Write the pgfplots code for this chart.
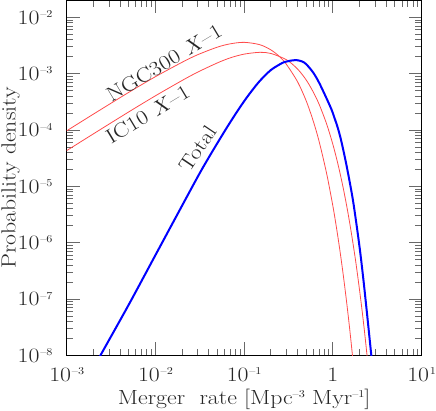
\RequirePackage{fix-cm}
\documentclass[border=0pt]{standalone}
\usepackage{fontspec}
\setmainfont{Latin Modern Roman}[FakeStretch=1.16]
\usepackage{pgfplots}
\pgfplotsset{compat=1.18}
\definecolor{curvered}{RGB}{255,75,75}
\definecolor{tickgray}{RGB}{105,105,105}
\newcommand\bigf{\fontsize{20.5}{22}\selectfont}
\newcommand\sups[1]{\raisebox{6.6pt}{\fontsize{10.5}{11}\selectfont #1}}
\newcommand\ee[1]{10\kern0.8pt\sups{#1}}

\begin{document}
\begin{tikzpicture}
\begin{loglogaxis}[
    scale only axis,
    width=355pt, height=355pt,
    xmin=1e-3, xmax=10,
    ymin=1e-8, ymax=0.02,
    xtick={1e-3,1e-2,1e-1,1,10},
    xticklabels={\ee{–3},\ee{–2},\ee{–1},1,\ee{1}},
    ytick={1e-8,1e-7,1e-6,1e-5,1e-4,1e-3,1e-2},
    yticklabels={\ee{–8},\ee{–7},\ee{–6},\ee{–5},\ee{–4},\ee{–3},\ee{–2}},
    minor xtick={2e-3,3e-3,4e-3,5e-3,6e-3,7e-3,8e-3,9e-3,
                 2e-2,3e-2,4e-2,5e-2,6e-2,7e-2,8e-2,9e-2,
                 0.2,0.3,0.4,0.5,0.6,0.7,0.8,0.9,
                 2,3,4,5,6,7,8,9},
    minor ytick={2e-8,3e-8,4e-8,5e-8,6e-8,7e-8,8e-8,9e-8,
                 2e-7,3e-7,4e-7,5e-7,6e-7,7e-7,8e-7,9e-7,
                 2e-6,3e-6,4e-6,5e-6,6e-6,7e-6,8e-6,9e-6,
                 2e-5,3e-5,4e-5,5e-5,6e-5,7e-5,8e-5,9e-5,
                 2e-4,3e-4,4e-4,5e-4,6e-4,7e-4,8e-4,9e-4,
                 2e-3,3e-3,4e-3,5e-3,6e-3,7e-3,8e-3,9e-3},
    tick align=inside,
    xtick pos=both, ytick pos=both,
    major tick length=13pt,
    minor tick length=6.5pt,
    every tick/.style={tickgray, line width=0.9pt},
    axis line style={black, line width=0.9pt},
    tick label style={font=\bigf, text=black!85, inner sep=0pt},
    xticklabel style={yshift=-12pt},
    yticklabel style={xshift=-14pt},
    label style={font=\bigf, text=black!85, inner sep=1.5pt},
    xlabel={Merger\ \ rate [Mpc\sups{–3} Myr\sups{–1}]},
    ylabel={Probability density},
    xlabel style={at={(axis description cs:0.5,0)}, anchor=base, yshift=-49pt},
    ylabel style={at={(axis description cs:0,0.5)}, anchor=base, yshift=51pt},
    clip=true,
]

% NGC300 X-1
\addplot[curvered, line width=0.8pt, smooth] coordinates {
    (0.001,9.7e-5) (0.002,1.92e-4) (0.005,4.67e-4) (0.01,8.87e-4)
    (0.02,1.60e-3) (0.03,2.18e-3) (0.05,2.97e-3) (0.07,3.40e-3)
    (0.1,3.61e-3) (0.15,3.28e-3) (0.2,2.65e-3) (0.25,2.02e-3)
    (0.3,1.46e-3) (0.4,7.18e-4) (0.5,3.30e-4) (0.6,1.45e-4)
    (0.7,6.25e-5) (0.85,1.69e-5) (1.0,4.45e-6) (1.1,1.80e-6)
    (1.2,7.23e-7) (1.3,2.88e-7) (1.4,1.14e-7) (1.5,4.50e-8)
    (1.6,1.77e-8) (1.7,6.9e-9)
};

% IC10 X-1
\addplot[curvered, line width=0.8pt, smooth] coordinates {
    (0.001,4.32e-5) (0.002,8.57e-5) (0.005,2.10e-4) (0.01,4.06e-4)
    (0.02,7.60e-4) (0.03,1.07e-3) (0.05,1.56e-3) (0.07,1.92e-3)
    (0.1,2.23e-3) (0.15,2.40e-3) (0.2,2.29e-3) (0.3,1.77e-3)
    (0.4,1.21e-3) (0.5,7.76e-4) (0.6,4.75e-4) (0.7,2.86e-4)
    (0.85,1.28e-4) (1.0,5.53e-5) (1.15,2.34e-5) (1.3,9.73e-6)
    (1.45,4.00e-6) (1.6,1.62e-6) (1.8,4.85e-7) (2.0,1.41e-7)
    (2.15,5.60e-8) (2.3,2.19e-8) (2.5,6.28e-9)
};

% Total
\addplot[blue, line width=2pt, smooth] coordinates {
    (0.0023,8.71e-9) (0.0024,1.0e-8) (0.005,7.94e-8) (0.01,6.03e-7)
    (0.0284,1.27e-5) (0.04,3.28e-5) (0.0603,9.59e-5) (0.08,1.936e-4)
    (0.1,3.26e-4) (0.12,4.82e-4) (0.15,7.45e-4) (0.2,1.164e-3)
    (0.27,1.56e-3) (0.3,1.644e-3) (0.33,1.702e-3) (0.387,1.746e-3)
    (0.45,1.652e-3) (0.5,1.479e-3) (0.6,1.047e-3) (0.71,6.61e-4)
    (0.944,2.51e-4) (1.05,1.585e-4) (1.14,1.072e-4) (1.245,6.31e-5)
    (1.4,2.69e-5) (1.563,1.096e-5) (1.7,5.13e-6) (1.884,1.66e-6)
    (2.05,6.03e-7) (2.24,1.78e-7) (2.45,4.68e-8) (2.71,1.0e-8)
    (2.8,6.31e-9)
};

\node[rotate=31, font=\bigf, text=black!85]
    at (axis cs:0.0125,1.55e-3) {NGC300 \textit{X}–1};
\node[rotate=31, font=\bigf, text=black!85]
    at (axis cs:0.0082,1.9e-4) {IC10 \textit{X}–1};
\node[rotate=56, font=\bigf, text=black!85]
    at (axis cs:0.0299,4.7e-5) {Total};

\end{loglogaxis}
\end{tikzpicture}
\end{document}
